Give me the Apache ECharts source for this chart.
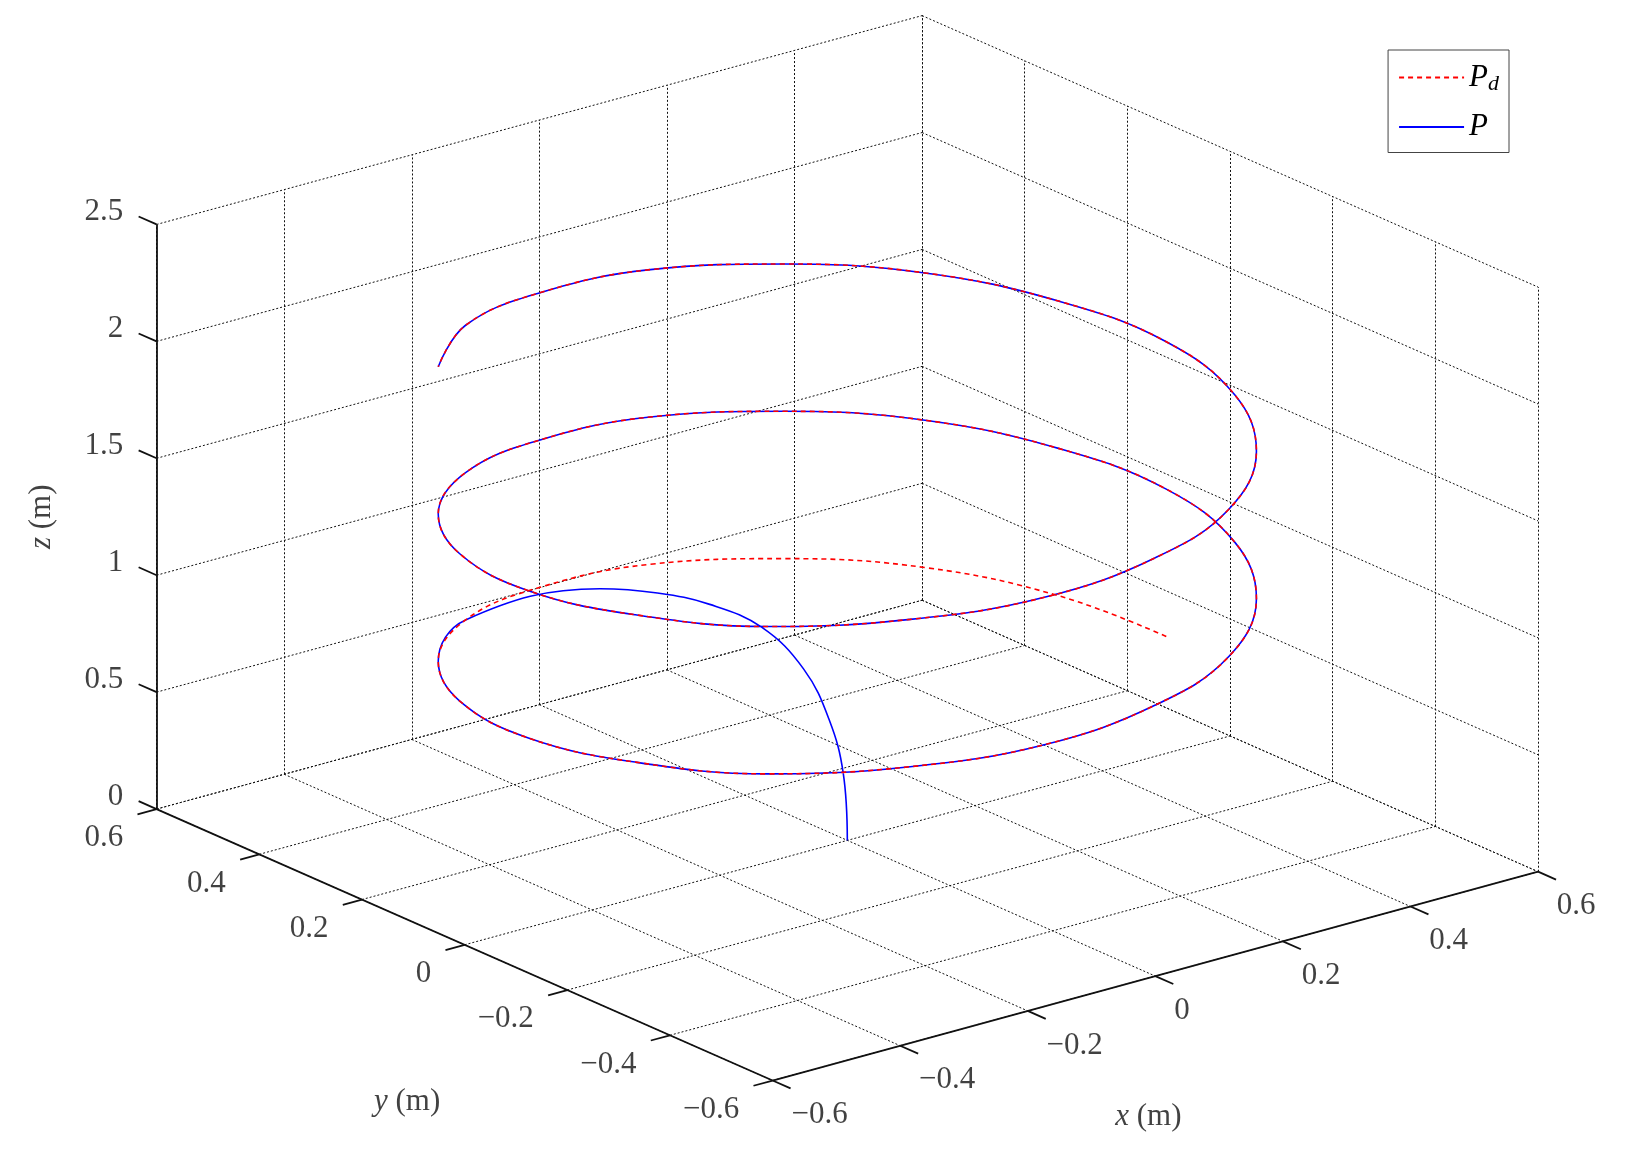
<!DOCTYPE html>
<html>
<head>
<meta charset="utf-8">
<script src="https://cdn.jsdelivr.net/npm/echarts@6/dist/echarts.min.js"></script>
<style>
  html, body { margin: 0; padding: 0; background: #fff; }
  #chart { width: 1637px; height: 1164px; }
</style>
</head>
<body>
<div id="chart"></div>
<script>
// tick values of the 3-D box
const xTicks = [-0.6, -0.4, -0.2, 0, 0.2, 0.4, 0.6]
const yTicks = [-0.6, -0.4, -0.2, 0, 0.2, 0.4, 0.6]
const zTicks = [0, 0.5, 1, 1.5, 2, 2.5]

// desired trajectory Pd (one point every 20 degrees)
const pdX = [0.5, 0.47, 0.383, 0.25, 0.087, -0.087, -0.25, -0.383, -0.47, -0.5, -0.47, -0.383, -0.25, -0.087, 0.087, 0.25, 0.383, 0.47,
  0.5, 0.47, 0.383, 0.25, 0.087, -0.087, -0.25, -0.383, -0.47, -0.5, -0.47, -0.383, -0.25, -0.087, 0.087, 0.25, 0.383, 0.47,
  0.5, 0.47, 0.383, 0.25, 0.087, -0.087, -0.25, -0.383]
const pdY = [0, 0.171, 0.321, 0.433, 0.492, 0.492, 0.433, 0.321, 0.171, 0, -0.171, -0.321, -0.433, -0.492, -0.492, -0.433, -0.321, -0.171,
  0, 0.171, 0.321, 0.433, 0.492, 0.492, 0.433, 0.321, 0.171, 0, -0.171, -0.321, -0.433, -0.492, -0.492, -0.433, -0.321, -0.171,
  0, 0.171, 0.321, 0.433, 0.492, 0.492, 0.433, 0.321]
const pdZ = [0.50, 0.53, 0.57, 0.60, 0.64, 0.67, 0.71, 0.74, 0.78, 0.81, 0.85, 0.88, 0.92, 0.95, 0.99, 1.02, 1.06, 1.09,
  1.13, 1.16, 1.20, 1.23, 1.27, 1.30, 1.34, 1.37, 1.41, 1.44, 1.48, 1.51, 1.55, 1.58, 1.62, 1.65, 1.69, 1.72,
  1.76, 1.79, 1.83, 1.86, 1.90, 1.93, 1.97, 2.00]

// actual trajectory P: starts at the origin, climbs, then follows Pd
const pX = [0, 0, 0, 0, 0, 0, 0, 0, -0.25, -0.383, -0.47, -0.5, -0.47, -0.383, -0.25, -0.087, 0.087, 0.25, 0.383, 0.47,
  0.5, 0.47, 0.383, 0.25, 0.087, -0.087, -0.25, -0.383, -0.47, -0.5, -0.47, -0.383, -0.25, -0.087, 0.087, 0.25, 0.383, 0.47,
  0.5, 0.47, 0.383, 0.25, 0.087, -0.087, -0.25, -0.383]
const pY = [0, 0.008, 0.035, 0.085, 0.167, 0.268, 0.37, 0.482, 0.433, 0.321, 0.171, 0, -0.171, -0.321, -0.433, -0.492, -0.492, -0.433, -0.321, -0.171,
  0, 0.171, 0.321, 0.433, 0.492, 0.492, 0.433, 0.321, 0.171, 0, -0.171, -0.321, -0.433, -0.492, -0.492, -0.433, -0.321, -0.171,
  0, 0.171, 0.321, 0.433, 0.492, 0.492, 0.433, 0.321]
const pZ = [0, 0.28, 0.48, 0.65, 0.75, 0.75, 0.70, 0.61, 0.71, 0.74, 0.78, 0.81, 0.85, 0.88, 0.92, 0.95, 0.99, 1.02, 1.06, 1.09,
  1.13, 1.16, 1.20, 1.23, 1.27, 1.30, 1.34, 1.37, 1.41, 1.44, 1.48, 1.51, 1.55, 1.58, 1.62, 1.65, 1.69, 1.72,
  1.76, 1.79, 1.83, 1.86, 1.90, 1.93, 1.97, 2.00]

// view: picture drawn in a 1568 x 1115 frame
const W = 1568, H = 1115
const k = 1637 / W

function proj(x, y, z) {
  return [150 + (x + 0.6) * 611 + (0.6 - y) * 491.7,
          775 - (x + 0.6) * 166.7 + (0.6 - y) * 216.7 - z * 224]
}
function path(xs, ys, zs) {
  return xs.map((x, i) => proj(x, ys[i], zs[i]))
}
function seg(a, b) { return { coords: [a, b] } }
function fmt(v) {
  let s = String(Math.round(v * 10) / 10)
  return s.replace('-', '−')
}

let grid = []
xTicks.forEach(x => {
  grid.push(seg(proj(x, 0.6, 0), proj(x, 0.6, 2.5)))
  grid.push(seg(proj(x, 0.6, 0), proj(x, -0.6, 0)))
})
yTicks.forEach(y => {
  grid.push(seg(proj(0.6, y, 0), proj(0.6, y, 2.5)))
  grid.push(seg(proj(-0.6, y, 0), proj(0.6, y, 0)))
})
zTicks.forEach(z => {
  grid.push(seg(proj(-0.6, 0.6, z), proj(0.6, 0.6, z)))
  grid.push(seg(proj(0.6, 0.6, z), proj(0.6, -0.6, z)))
})

let axes = [
  seg(proj(-0.6, 0.6, 0), proj(-0.6, 0.6, 2.5)),
  seg(proj(-0.6, 0.6, 0), proj(-0.6, -0.6, 0)),
  seg(proj(-0.6, -0.6, 0), proj(0.6, -0.6, 0))
]
let labels = []
zTicks.forEach(z => {
  axes.push(seg(proj(-0.6, 0.6, z), proj(-0.6, 0.635, z)))
  let p = proj(-0.6, 0.6, z)
  labels.push({ value: [p[0] - 32, p[1] - 12], name: fmt(z), label: { align: 'right' } })
})
yTicks.forEach(y => {
  axes.push(seg(proj(-0.6, y, 0), proj(-0.63, y, 0)))
  let p = proj(-0.6, y, 0)
  labels.push({ value: [p[0] - 32, p[1] + 28], name: fmt(y), label: { align: 'right' } })
})
xTicks.forEach(x => {
  axes.push(seg(proj(x, -0.6, 0), proj(x, -0.635, 0)))
  let p = proj(x, -0.6, 0)
  labels.push({ value: [p[0] + 18, p[1] + 33], name: fmt(x), label: { align: 'left' } })
})

const serif = 'Liberation Serif'
const fs = Math.round(30 * k)

var myChart = echarts.init(document.getElementById('chart'))
myChart.setOption({
  animation: false,
  grid: { left: 0, right: 0, top: 0, bottom: 0 },
  xAxis: { type: 'value', min: 0, max: W, show: false },
  yAxis: { type: 'value', min: 0, max: H, inverse: true, show: false },
  legend: {
    data: ['Pd', 'P'],
    orient: 'vertical',
    right: Math.round((W - 1445) * k),
    top: Math.round(48 * k),
    itemWidth: Math.round(62 * k),
    itemHeight: 14,
    itemGap: 16,
    itemStyle: { opacity: 0 },
    padding: [12, 10, 10, 10],
    borderColor: '#444',
    borderWidth: 1,
    backgroundColor: '#fff',
    formatter: n => n === 'Pd' ? '{v|P}{s|d}' : '{v|P}',
    textStyle: {
      rich: {
        v: { fontFamily: serif, fontStyle: 'italic', fontSize: fs, color: '#000' },
        s: { fontFamily: serif, fontStyle: 'italic', fontSize: Math.round(fs * 0.7), color: '#000', verticalAlign: 'bottom', padding: [14, 0, 0, 0] }
      }
    }
  },
  series: [
    {
      type: 'lines', coordinateSystem: 'cartesian2d', silent: true,
      lineStyle: { color: '#111', width: 1, type: [2, 2], opacity: 1 },
      data: grid
    },
    {
      type: 'lines', coordinateSystem: 'cartesian2d', silent: true,
      lineStyle: { color: '#111', width: 1.8, opacity: 1 },
      data: axes
    },
    {
      type: 'scatter', symbolSize: 0, silent: true,
      label: { show: true, formatter: p => p.name, fontFamily: serif, fontSize: fs, color: '#111', verticalAlign: 'middle' },
      data: labels
    },
    {
      type: 'scatter', symbolSize: 0, silent: true,
      label: { show: true, fontFamily: serif, fontSize: fs, color: '#111', verticalAlign: 'middle', align: 'center',
        rich: { i: { fontFamily: serif, fontStyle: 'italic', fontSize: fs, color: '#111' } } },
      data: [
        { value: [40, 495], label: { formatter: '{i|z} (m)', rotate: 90 } },
        { value: [390, 1055], label: { formatter: '{i|y} (m)' } },
        { value: [1100, 1070], label: { formatter: '{i|x} (m)' } }
      ]
    },
    {
      name: 'P', type: 'line', data: path(pX, pY, pZ), symbol: 'none', smooth: 0.4,
      lineStyle: { color: '#0000ff', width: 1.6 }, itemStyle: { color: '#0000ff' }
    },
    {
      name: 'Pd', type: 'line', data: path(pdX, pdY, pdZ), symbol: 'none', smooth: 0.4,
      lineStyle: { color: '#ff0000', width: 1.6, type: [5, 4] }, itemStyle: { color: '#ff0000' }
    }
  ]
})
</script>
</body>
</html>
